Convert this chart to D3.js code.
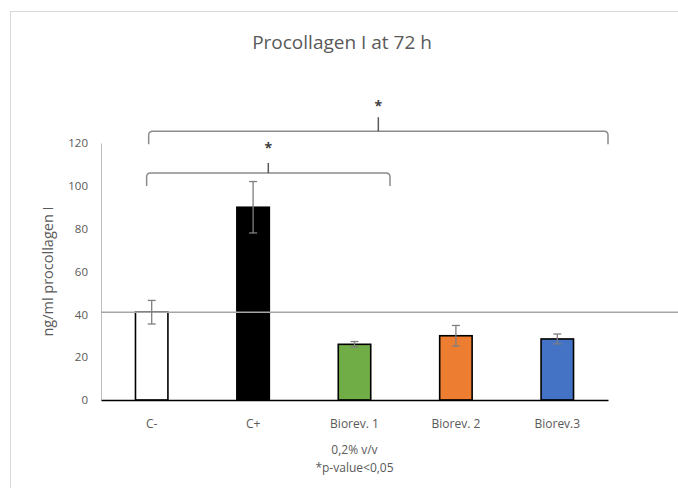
<!DOCTYPE html>
<html lang="en">
<head>
<meta charset="UTF-8">
<title>Procollagen I at 72 h</title>
<script src="https://d3js.org/d3.v7.min.js"></script>
<style>
    body { margin: 0; background: #fff; }
    text { font-family: "Open Sans", "Noto Sans", sans-serif; fill: #595959; }
</style>
</head>
<body>
<div id="chart"></div>
<script>
    // ---- data ----
    var categories = ["C-", "C+", "Biorev. 1", "Biorev. 2", "Biorev.3"];
    var values = [41, 90, 26, 30, 28.5];
    var errors = [5.5, 12, 1.3, 4.8, 2.3];
    var colors = ["#ffffff", "#000000", "#70ad47", "#ed7d31", "#4472c4"];
    var yTicks = [0, 20, 40, 60, 80, 100, 120];
    var refValue = 41;  // horizontal line at the C- level
    // significance brackets: from / to as category positions, level in y units
    var bracketFrom = [-0.05, -0.03];
    var bracketTo = [2.35, 4.5];
    var bracketLevel = [106, 125.5];
    var noteLines = ["0,2% v/v", "*p-value<0,05"];

    var W = 678, H = 488;
    var margin = { top: 143, right: 70, bottom: 88, left: 101 },
        width = W - margin.left - margin.right,
        height = H - margin.top - margin.bottom;

    var svg = d3.select("#chart").append("svg")
        .attr("width", W)
        .attr("height", H);

    // chart frame
    svg.append("rect")
        .attr("x", 10.5).attr("y", 11.5)
        .attr("width", W).attr("height", H)
        .attr("fill", "none")
        .attr("stroke", "#d9d9d9");

    svg.append("text")
        .attr("x", 342).attr("y", 49)
        .attr("text-anchor", "middle")
        .style("font-size", "19px")
        .text("Procollagen I at 72 h");

    var g = svg.append("g")
        .attr("transform", "translate(" + margin.left + "," + margin.top + ")");

    var x = d3.scaleBand()
        .domain(categories)
        .range([0, width])
        .paddingInner(0.68)
        .paddingOuter(0.34);

    // continuous position over category index, for brackets
    var xi = d3.scaleLinear()
        .domain([0, categories.length - 1])
        .range([x(categories[0]) + x.bandwidth() / 2,
                x(categories[categories.length - 1]) + x.bandwidth() / 2]);

    var y = d3.scaleLinear()
        .domain([0, 120])
        .range([height, 0]);

    // y axis
    var yAxis = g.append("g")
        .call(d3.axisLeft(y).tickValues(yTicks).tickSize(0).tickPadding(13));
    yAxis.select(".domain").attr("stroke", "#bfbfbf");
    yAxis.selectAll("text").style("font-size", "11.5px").style("fill", "#595959");

    svg.append("text")
        .attr("transform", "translate(53," + (margin.top + height / 2) + ") rotate(-90)")
        .attr("text-anchor", "middle")
        .style("font-size", "14.5px")
        .text("ng/ml procollagen I");

    // bars
    g.selectAll(".bar")
        .data(values)
        .enter()
        .append("rect")
        .attr("class", "bar")
        .attr("x", function (d, i) { return x(categories[i]); })
        .attr("y", function (d) { return y(d); })
        .attr("width", x.bandwidth())
        .attr("height", function (d) { return height - y(d); })
        .attr("fill", function (d, i) { return colors[i]; })
        .attr("stroke", "#000")
        .attr("stroke-width", 1.6);

    // reference line
    g.append("line")
        .attr("x1", 0).attr("x2", W - margin.left)
        .attr("y1", y(refValue)).attr("y2", y(refValue))
        .attr("stroke", "#a6a6a6")
        .attr("stroke-width", 1.6);

    // error bars
    var eb = g.selectAll(".err")
        .data(values)
        .enter()
        .append("g")
        .attr("class", "err")
        .attr("transform", function (d, i) {
            return "translate(" + (x(categories[i]) + x.bandwidth() / 2) + ",0)";
        });
    eb.append("line")
        .attr("y1", function (d, i) { return y(d + errors[i]); })
        .attr("y2", function (d, i) { return y(d - errors[i]); })
        .attr("stroke", "#7f7f7f").attr("stroke-width", 1.3);
    eb.append("line")
        .attr("x1", -4).attr("x2", 4)
        .attr("y1", function (d, i) { return y(d + errors[i]); })
        .attr("y2", function (d, i) { return y(d + errors[i]); })
        .attr("stroke", "#7f7f7f").attr("stroke-width", 1.3);
    eb.append("line")
        .attr("x1", -4).attr("x2", 4)
        .attr("y1", function (d, i) { return y(d - errors[i]); })
        .attr("y2", function (d, i) { return y(d - errors[i]); })
        .attr("stroke", "#7f7f7f").attr("stroke-width", 1.3);

    // x axis
    var xAxis = g.append("g")
        .attr("transform", "translate(0," + height + ")")
        .call(d3.axisBottom(x).tickSize(0).tickPadding(19));
    xAxis.select(".domain").attr("stroke", "#000").attr("stroke-width", 1.6);
    xAxis.selectAll("text").style("font-size", "12px").style("fill", "#595959");

    // notes below
    g.selectAll(".note")
        .data(noteLines)
        .enter()
        .append("text")
        .attr("class", "note")
        .attr("x", x(categories[2]) + x.bandwidth() / 2)
        .attr("y", function (d, i) { return height + 54 + i * 18; })
        .attr("text-anchor", "middle")
        .style("font-size", "12px")
        .text(function (d) { return d; });

    // significance brackets
    bracketLevel.forEach(function (lv, k) {
        var x1 = xi(bracketFrom[k]), x2 = xi(bracketTo[k]);
        var yl = y(lv), mid = (x1 + x2) / 2;
        var drop = 13;
        g.append("path")
            .attr("d", "M" + x1 + "," + (yl + drop) +
                " L" + x1 + "," + (yl + 4) +
                " Q" + x1 + "," + yl + " " + (x1 + 4) + "," + yl +
                " L" + (x2 - 4) + "," + yl +
                " Q" + x2 + "," + yl + " " + x2 + "," + (yl + 4) +
                " L" + x2 + "," + (yl + drop))
            .attr("fill", "none")
            .attr("stroke", "#8c8c8c")
            .attr("stroke-width", 1.5);
        g.append("line")
            .attr("x1", mid).attr("x2", mid)
            .attr("y1", yl).attr("y2", yl - (k === 0 ? 10 : 14))
            .attr("stroke", "#595959")
            .attr("stroke-width", 1.5);
        g.append("text")
            .attr("x", mid)
            .attr("y", yl - 20)
            .attr("text-anchor", "middle")
            .style("font-size", "14px")
            .style("font-weight", "bold")
            .style("fill", "#404040")
            .text("*");
    });
</script>
</body>
</html>
